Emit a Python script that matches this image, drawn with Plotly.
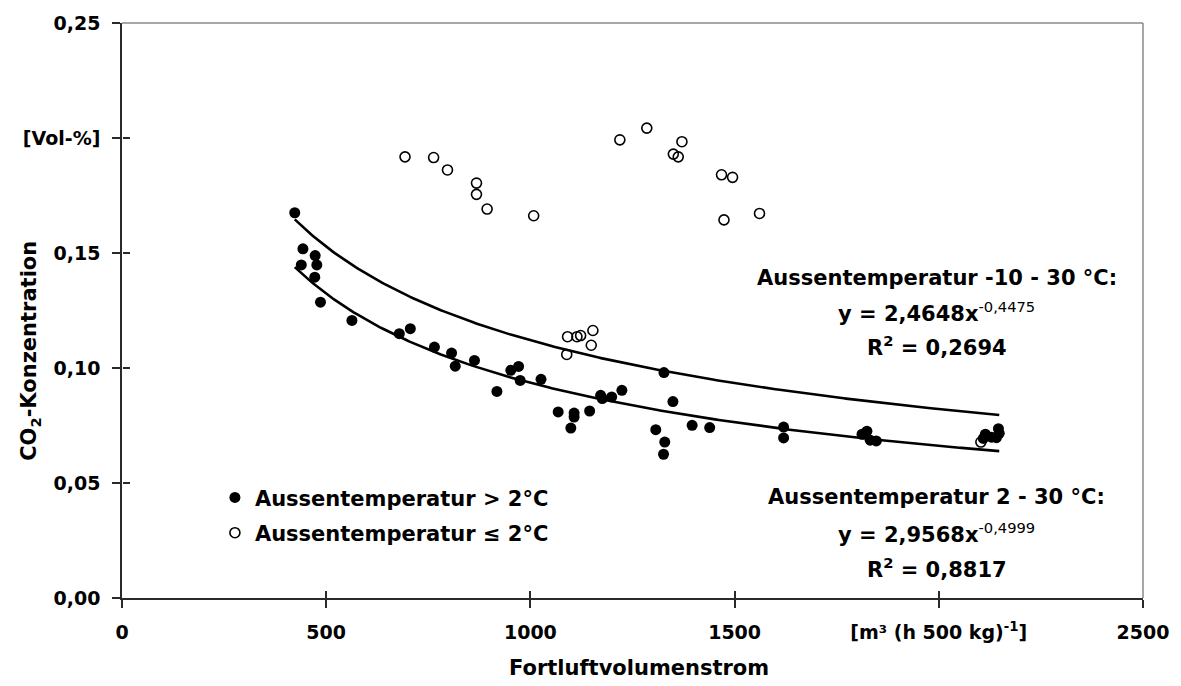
import numpy as np
import plotly.graph_objects as go

# Fortluftvolumenstrom [m³ (h 500 kg)^-1] und CO2-Konzentration [Vol-%]
# Messwerte bei Aussentemperatur > 2 °C
warm_x = [423, 443, 473, 439, 477, 472, 486, 563, 679, 706, 765, 807, 816, 863,
          918, 952, 971, 975, 1026, 1068, 1107, 1107, 1099, 1145, 1172, 1176,
          1199, 1224, 1327, 1349, 1307, 1329, 1326, 1396, 1439, 1620, 1620,
          1812, 1824, 1832, 1847, 2109, 2114, 2129, 2141, 2146, 2148]
warm_y = [0.1675, 0.1518, 0.1489, 0.1448, 0.1448, 0.1395, 0.1286, 0.1207,
          0.1149, 0.1171, 0.1091, 0.1065, 0.1008, 0.1033, 0.0898, 0.0990,
          0.1007, 0.0946, 0.0951, 0.0809, 0.0804, 0.0787, 0.0739, 0.0813,
          0.0881, 0.0867, 0.0874, 0.0903, 0.0980, 0.0854, 0.0732, 0.0678,
          0.0625, 0.0751, 0.0741, 0.0743, 0.0696, 0.0712, 0.0725, 0.0686,
          0.0683, 0.0694, 0.0712, 0.0699, 0.0697, 0.0736, 0.0716]

# Messwerte bei Aussentemperatur <= 2 °C
cold_x = [693, 763, 797, 868, 868, 894, 1008, 1219, 1285, 1371, 1350, 1362,
          1468, 1495, 1474, 1561, 1091, 1114, 1123, 1153, 1149, 1089, 2103]
cold_y = [0.1918, 0.1915, 0.1861, 0.1804, 0.1755, 0.1691, 0.1662, 0.1992,
          0.2043, 0.1984, 0.1930, 0.1918, 0.1840, 0.1829, 0.1644, 0.1672,
          0.1136, 0.1136, 0.1141, 0.1163, 0.1099, 0.1059, 0.0678]

# Potenzfunktionen y = a * x^b
fit_all_a, fit_all_b = 2.4648, -0.4475    # Aussentemperatur -10 - 30 °C
fit_warm_a, fit_warm_b = 2.9568, -0.4999  # Aussentemperatur 2 - 30 °C

x_tickvals = [0, 500, 1000, 1500, 2000, 2500]
x_ticktext = ["0", "500", "1000", "1500", "[m³ (h 500 kg)<sup>-1</sup>]", "2500"]
y_tickvals = [0, 0.05, 0.10, 0.15, 0.20, 0.25]
y_ticktext = ["0,00", "0,05", "0,10", "0,15", "[Vol-%]", "0,25"]

FONT = "DejaVu Sans"
AXIS_COLOR = "#2a2a2a"
FRAME_COLOR = "#8a8a8a"

all_x = warm_x + cold_x
curve_all_x = np.linspace(min(all_x), max(all_x), 300)
curve_all_y = fit_all_a * curve_all_x ** fit_all_b
curve_warm_x = np.linspace(min(warm_x), max(warm_x), 300)
curve_warm_y = fit_warm_a * curve_warm_x ** fit_warm_b

fig = go.Figure()

fig.add_trace(go.Scatter(x=curve_all_x, y=curve_all_y, mode="lines",
                         line=dict(color="black", width=2.6),
                         showlegend=False, hoverinfo="skip"))
fig.add_trace(go.Scatter(x=curve_warm_x, y=curve_warm_y, mode="lines",
                         line=dict(color="black", width=2.6),
                         showlegend=False, hoverinfo="skip"))

fig.add_trace(go.Scatter(x=warm_x, y=warm_y, mode="markers",
                         name="Aussentemperatur > 2°C", legendgroup="warm",
                         marker=dict(symbol="circle", size=11, color="black")))
fig.add_trace(go.Scatter(x=cold_x, y=cold_y, mode="markers",
                         name="Aussentemperatur ≤ 2°C", legendgroup="cold",
                         marker=dict(symbol="circle-open", size=10, color="black",
                                     line=dict(width=1.6, color="black"))))

# empty trace that carries the overlay axes (inner half of the cross ticks)
fig.add_trace(go.Scatter(x=[], y=[], xaxis="x2", yaxis="y2",
                         showlegend=False, hoverinfo="skip"))

tick_font = dict(family=FONT, size=19, color="black", weight="bold")

fig.update_layout(
    width=1181, height=686,
    margin=dict(l=122, r=35, t=22, b=88),
    paper_bgcolor="white", plot_bgcolor="white",
    font=dict(family=FONT, size=21, color="black", weight="bold"),
    xaxis=dict(range=[0, 2500], tickvals=x_tickvals, ticktext=x_ticktext,
               ticks="outside", ticklen=8, tickwidth=1.5, tickcolor=AXIS_COLOR,
               showline=True, linecolor=AXIS_COLOR, linewidth=1.6,
               showgrid=False, zeroline=False, tickfont=tick_font,
               ticklabelstandoff=8),
    yaxis=dict(range=[0, 0.25], tickvals=y_tickvals, ticktext=y_ticktext,
               ticks="outside", ticklen=8, tickwidth=1.5, tickcolor=AXIS_COLOR,
               showline=True, linecolor=AXIS_COLOR, linewidth=1.6,
               showgrid=False, zeroline=False, tickfont=tick_font,
               ticklabelstandoff=8),
    xaxis2=dict(range=[0, 2500], overlaying="x", anchor="free", position=0,
                side="bottom", tickvals=x_tickvals, showticklabels=False,
                ticks="inside", ticklen=7, tickwidth=1.5, tickcolor=AXIS_COLOR,
                showline=False, showgrid=False, zeroline=False),
    yaxis2=dict(range=[0, 0.25], overlaying="y", anchor="free", position=0,
                side="left", tickvals=y_tickvals[:-1], showticklabels=False,
                ticks="inside", ticklen=7, tickwidth=1.5, tickcolor=AXIS_COLOR,
                showline=False, showgrid=False, zeroline=False),
    legend=dict(x=0.091, y=0.21, xanchor="left", yanchor="top",
                bgcolor="rgba(0,0,0,0)", tracegroupgap=5,
                font=dict(family=FONT, size=21, color="black", weight="bold"),
                itemwidth=30),
    showlegend=True,
)

# top and right frame lines
fig.add_shape(type="line", xref="paper", yref="paper", x0=0, x1=1, y0=1, y1=1,
              line=dict(color=FRAME_COLOR, width=1.5))
fig.add_shape(type="line", xref="paper", yref="paper", x0=1, x1=1, y0=0, y1=1,
              line=dict(color=FRAME_COLOR, width=1.5))

ann_font = dict(family=FONT, size=21, color="black", weight="bold")
sup = '<sup><span style="font-weight:normal">{}</span></sup>'
text_lines = [
    ("Aussentemperatur -10 - 30 °C:", 0.557),
    ("y = 2,4648x" + sup.format("-0,4475"), 0.497),
    ("R<sup>2</sup> = 0,2694", 0.438),
    ("Aussentemperatur 2 - 30 °C:", 0.175),
    ("y = 2,9568x" + sup.format("-0,4999"), 0.113),
    ("R<sup>2</sup> = 0,8817", 0.052),
]
for txt, yp in text_lines:
    fig.add_annotation(text=txt, xref="paper", yref="paper", x=0.798, y=yp,
                       xanchor="center", yanchor="middle", showarrow=False,
                       font=ann_font)

# axis titles
fig.add_annotation(text="CO<sub>2</sub>-Konzentration", xref="paper", yref="paper",
                   x=-0.09, y=0.43, textangle=-90, showarrow=False,
                   xanchor="center", yanchor="middle", font=ann_font)
fig.add_annotation(text="Fortluftvolumenstrom", xref="paper", yref="paper",
                   x=0.506, y=-0.122, showarrow=False,
                   xanchor="center", yanchor="middle", font=ann_font)

fig.write_html("out.html")
